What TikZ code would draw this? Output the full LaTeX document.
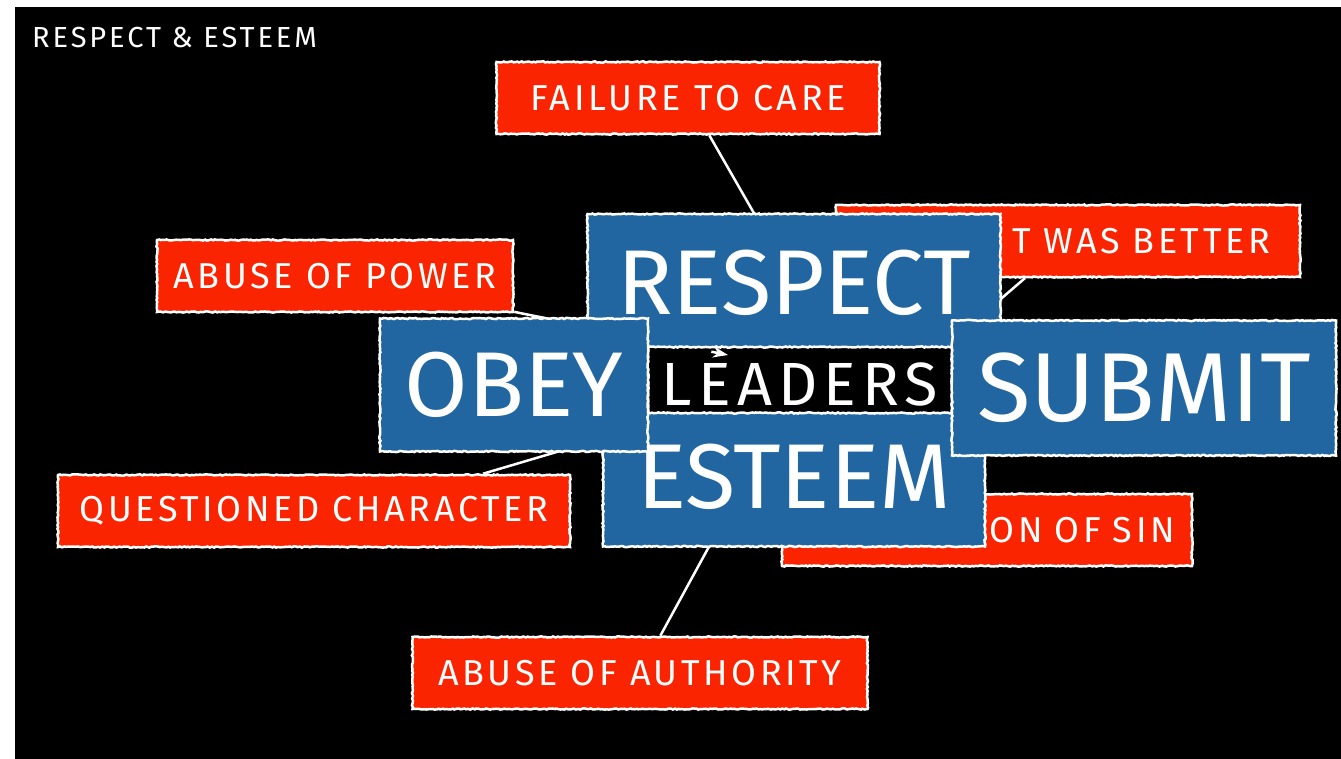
\documentclass[tikz,border=0pt]{standalone}
\usepackage{fontspec}
\setmainfont{Fira Sans}
\newfontfamily\labelfont{Fira Sans}[LetterSpace=10]
\newfontfamily\bigfont{Fira Sans}
\usetikzlibrary{positioning,arrows.meta,calc,decorations.pathmorphing}
\definecolor{boxred}{RGB}{250,36,0}
\definecolor{boxblue}{RGB}{33,102,160}

\begin{document}
\begin{tikzpicture}[x=1pt, y=-1pt,
    roughbox/.style={draw=white, line width=2.5pt, decorate,
        decoration={random steps, segment length=2pt, amplitude=0.6pt},
        text=white, inner sep=0pt},
    redbox/.style={roughbox, fill=boxred, minimum height=72pt,
        font=\labelfont\fontsize{36}{40}\selectfont},
    bluebox/.style={roughbox, fill=boxblue,
        font=\bigfont\fontsize{92}{94}\selectfont},
    conn/.style={white, line width=2.5pt}]
    \pgfmathsetseed{7}
    \useasboundingbox (0,0) rectangle (1341,759);
    \fill[white] (0,0) rectangle (1341,759);
    \fill[black] (15,7) rectangle (1341,759);

    % Title
    \node[anchor=base west, inner sep=0pt, text=white,
        font=\labelfont\fontsize{29}{32}\selectfont] (title) at (32,48) {RESPECT \& ESTEEM};

    % Red labels
    \foreach \nm/\cx/\cy/\w/\txt in {fail/688/98/383/FAILURE TO CARE,
        power/335/276/356/ABUSE OF POWER,
        quest/314/511/512/QUESTIONED CHARACTER,
        auth/640/673/455/ABUSE OF AUTHORITY} {
        \node[redbox, minimum width=\w pt] (\nm) at (\cx,\cy) {\txt};
    }
    % Red labels partly hidden behind the blue boxes
    \node[redbox, minimum width=464pt, text width=404pt, align=right] (better) at (1068,241) {T WAS BETTER};
    \node[redbox, minimum width=410pt, text width=376pt, align=right] (sin) at (987,530) {ON OF SIN};

    \node[inner sep=0pt] (leaders) at (800,380) {};
    \node[inner sep=0pt] (esteemc) at (794,477) {};
    \node[inner sep=0pt] (respectc) at (794,283) {};
    \coordinate (powtip) at (728,355);

    % Connectors (under the blue boxes)
    \draw[conn] (fail) -- (respectc);
    \draw[conn] (power) -- (powtip);
    \draw[conn] (quest.north -| 483,0) -- (leaders);
    \draw[conn] (auth) -- (leaders);
    \draw[conn] (better) -- (esteemc);

    % Blue boxes
    \node[bluebox, minimum width=413pt, minimum height=138pt] (respect) at (respectc) {RESPECT};
    \node[bluebox, minimum width=382pt, minimum height=139pt] (esteem) at (esteemc) {ESTEEM};
    \node[roughbox, fill=black, minimum width=304pt, minimum height=66pt,
        text height=50pt, text depth=0pt,
        font=\labelfont\fontsize{61}{62}\selectfont] (lead) at (leaders) {LEADERS};
    \draw[conn, -{Stealth[length=15pt, width=11pt]}] ($(powtip)!17pt!(power)$) -- (powtip);
    \node[bluebox, minimum width=268pt, minimum height=133pt] (obey) at (514,385) {OBEY};
    \node[bluebox, minimum width=384pt, minimum height=135pt,
        font=\bigfont\fontsize{98}{100}\selectfont] (submit) at (1144,388) {SUBMIT};
\end{tikzpicture}
\end{document}
